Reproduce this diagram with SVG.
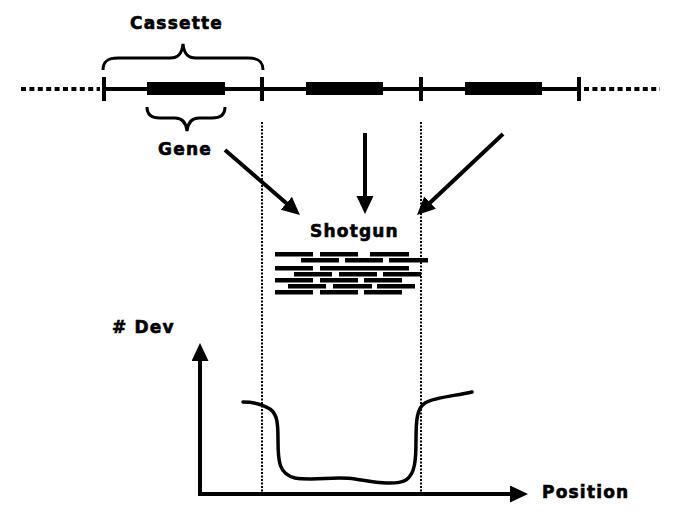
<svg xmlns="http://www.w3.org/2000/svg" width="684" height="520" viewBox="0 0 684 520">
<style>
text{font-family:"DejaVu Sans","Liberation Sans",sans-serif;font-weight:bold;font-size:17px;letter-spacing:1.2px;fill:#000;stroke:#000;stroke-width:0.6px}
.ln{stroke:#000;stroke-width:4;fill:none}
.dot{stroke:#000;stroke-width:4;stroke-dasharray:5 3.4;fill:none}
.vdot{stroke:#000;stroke-width:2;stroke-dasharray:2 1.5;fill:none}
.br{stroke:#000;stroke-width:3;fill:none}
.bar{fill:#000}
.arr{stroke:#000;stroke-width:4;fill:none;marker-end:url(#ah)}
</style>
<defs>
<marker id="ah" markerUnits="userSpaceOnUse" markerWidth="18" markerHeight="18" refX="10" refY="8.5" orient="auto">
<path d="M0,0 L18,8.5 L0,17 z" fill="#000"/>
</marker>
</defs>
<rect width="684" height="520" fill="#fff"/>
<g id="chromosome">
<line class="dot" x1="21" y1="89" x2="100" y2="89"/>
<line class="dot" x1="584" y1="89" x2="660" y2="89"/>
<line class="ln" x1="104" y1="89" x2="579" y2="89"/>
<line class="ln" x1="104" y1="77" x2="104" y2="101"/>
<line class="ln" x1="262" y1="77" x2="262" y2="101"/>
<line class="ln" x1="421" y1="77" x2="421" y2="101"/>
<line class="ln" x1="579" y1="77" x2="579" y2="101"/>
<rect class="bar" x="147" y="82" width="78" height="13"/>
<rect class="bar" x="306" y="82" width="77" height="13"/>
<rect class="bar" x="465" y="82" width="77" height="13"/>
</g>
<g id="cassette">
<path class="br" d="M103,70 C103,61 108,58 118,58 L170,58 C178,58 182,54 183,44 C184,54 188,58 196,58 L248,58 C258,58 263,61 263,70"/>
<text x="130" y="29">Cassette</text>
</g>
<g id="gene">
<path class="br" d="M147,107 C147,115 152,118 160,118 L175,118 C182,118 186,122 187,131 C188,122 192,118 199,118 L212,118 C220,118 225,115 225,107"/>
<text x="158" y="155">Gene</text>
</g>
<g id="shotgun">
<text x="310" y="237">Shotgun</text>
<rect class="bar" x="275" y="252" width="38" height="4.5"/>
<rect class="bar" x="320" y="252" width="38" height="4.5"/>
<rect class="bar" x="370" y="252" width="39" height="4.5"/>
<rect class="bar" x="301" y="258" width="38" height="4.5"/>
<rect class="bar" x="345" y="258" width="38" height="4.5"/>
<rect class="bar" x="389" y="258" width="39" height="4.5"/>
<rect class="bar" x="275" y="266" width="38" height="4.5"/>
<rect class="bar" x="320" y="266" width="89" height="4.5"/>
<rect class="bar" x="294" y="272" width="38" height="4.5"/>
<rect class="bar" x="339" y="272" width="38" height="4.5"/>
<rect class="bar" x="383" y="272" width="38" height="4.5"/>
<rect class="bar" x="275" y="278" width="38" height="4.5"/>
<rect class="bar" x="320" y="278" width="38" height="4.5"/>
<rect class="bar" x="364" y="278" width="38" height="4.5"/>
<rect class="bar" x="288" y="284" width="38" height="4.5"/>
<rect class="bar" x="333" y="284" width="39" height="4.5"/>
<rect class="bar" x="377" y="284" width="38" height="4.5"/>
<rect class="bar" x="275" y="290" width="38" height="4.5"/>
<rect class="bar" x="320" y="290" width="38" height="4.5"/>
<rect class="bar" x="364" y="290" width="38" height="4.5"/>
</g>
<g id="guides">
<line class="vdot" x1="262" y1="122" x2="262" y2="496"/>
<line class="vdot" x1="421" y1="122" x2="421" y2="496"/>
</g>
<g id="graph">
<text x="112" y="333"># Dev</text>
<text x="542" y="498">Position</text>
<path d="M243,402 C252,402 262,404 270,409 C277,414 278,422 278,440 C278,462 279,474 295,478 C315,481 335,476 355,479 C375,482 395,486 406,480 C415,474 416,460 416,440 C416,420 417,408 425,403 C435,397 455,396 472,392" stroke="#000" stroke-width="3.5" fill="none" stroke-linecap="round"/>
</g>
<g id="connectors">
<line class="arr" x1="225" y1="150" x2="293.9" y2="209.8"/>
<line class="arr" x1="365" y1="133" x2="365" y2="206"/>
<line class="arr" x1="503" y1="134" x2="422.8" y2="209.5"/>
<line class="arr" x1="200" y1="495" x2="200" y2="351"/>
<line class="arr" x1="198" y1="494" x2="520" y2="494"/>
</g>
</svg>
